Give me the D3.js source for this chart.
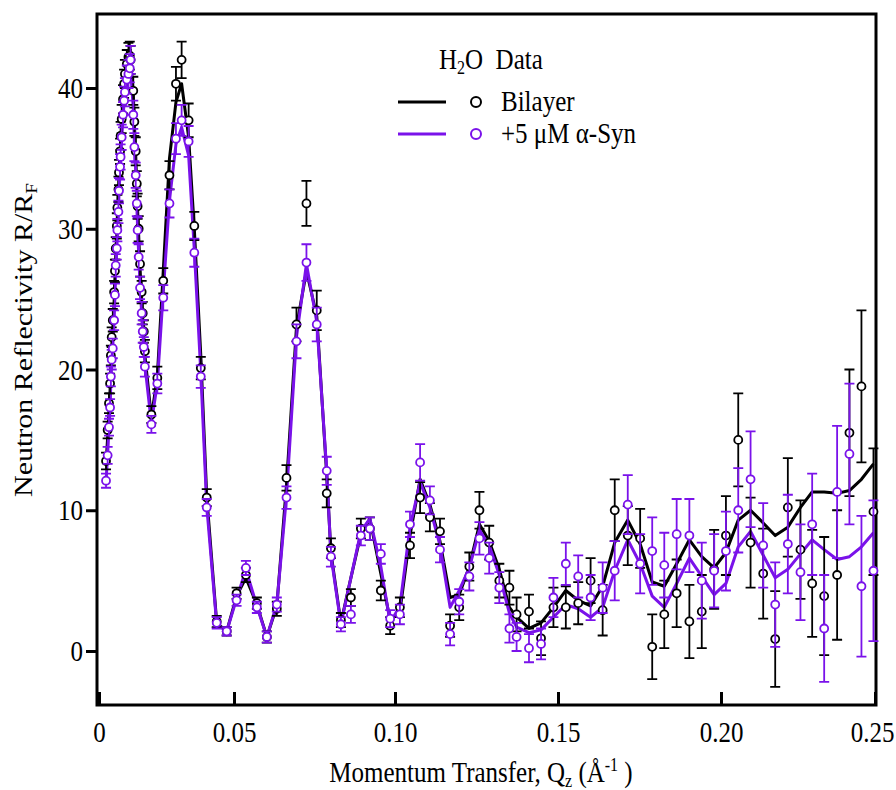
<!DOCTYPE html>
<html>
<head>
<meta charset="utf-8">
<script src="https://cdn.jsdelivr.net/npm/d3@7"></script>
<style>
  body { margin: 0; background: #fff; }
  text { font-family: "Liberation Serif", "Times New Roman", serif; fill: #000; }
</style>
</head>
<body>
<div id="chart"></div>
<script>
// momentum transfer values, shared by both data sets
var qz = [0.0026,0.0032,0.0037,0.0041,0.0044,0.0047,0.0051,0.0056,0.0059,0.0062,
  0.0066,0.0068,0.0072,0.0074,0.0078,0.0080,0.0084,0.0089,0.0093,0.0096,
  0.0103,0.0109,0.0114,0.0117,0.0127,0.0131,0.0136,0.0140,0.0143,0.0147,
  0.0152,0.0158,0.0162,0.0166,0.0170,0.0194,
  0.0216,0.0238,0.0261,0.0285,0.0306,0.0332,0.0353,0.0377,0.0399,0.0436,0.0473,
  0.0508,0.0537,0.0571,0.0602,0.0633,0.0663,0.0694,0.0725,0.0757,0.0788,0.0801,
  0.0832,0.0863,0.0894,0.0922,0.0956,0.0985,
  0.1015,0.1046,0.1077,0.1107,0.1138,0.1169,0.1197,0.1228,0.1259,0.1289,0.1320,
  0.1351,0.1373,0.1411,0.1448,0.1486,
  0.1524,0.1562,0.1600,0.1637,0.1674,0.1714,0.1752,0.1789,0.1826,0.1864,0.1903,
  0.1941,0.1979,
  0.2016,0.2056,0.2096,0.2137,0.2176,0.2217,0.2258,0.2296,0.2335,0.2377,0.2417,
  0.2456,0.2495];

var bilayer = [13.5,15.7,17.6,19.0,21.0,22.3,23.5,25.5,27.0,28.6,
  30.2,31.5,32.8,34.0,35.5,36.6,37.8,39.2,40.3,41.0,
  41.7,42.2,42.3,42.0,39.8,37.6,35.5,33.2,31.6,30.0,
  27.5,25.5,24.0,22.7,21.3,16.8,
  19.4,26.3,33.8,40.3,42.0,37.7,30.2,20.1,10.9,2.1,1.4,
  4.1,5.4,3.4,1.0,3.0,12.3,23.2,31.8,24.2,11.2,7.3,
  2.2,3.8,8.7,8.7,4.3,1.8,
  3.1,7.5,10.9,9.5,8.5,1.8,3.1,6.0,10.0,7.7,5.0,
  4.5,2.6,2.8,0.9,3.1,
  3.1,3.4,5.0,2.9,10.0,8.2,8.0,0.3,2.6,4.1,2.1,
  2.8,5.8,
  8.2,15.0,7.7,5.5,0.85,10.2,7.2,4.8,3.9,5.4,15.5,
  18.8,9.9];

var bilayerErr = [0.6,0.6,0.7,0.7,0.7,0.7,0.8,0.8,0.8,0.8,
  0.9,0.9,0.9,0.9,0.9,1.0,1.0,1.0,1.0,1.0,
  1.0,1.0,1.0,1.0,1.0,1.0,1.0,0.9,0.9,0.9,
  0.9,0.8,0.8,0.8,0.8,0.6,
  0.8,0.9,1.0,1.2,1.3,1.2,1.0,0.8,0.6,0.4,0.3,
  0.4,0.5,0.4,0.4,0.5,0.9,1.2,1.6,1.4,1.0,0.7,
  0.5,0.6,0.7,0.8,0.7,0.6,
  0.7,0.9,1.1,1.0,0.9,0.8,0.9,1.0,1.3,1.2,1.2,
  1.2,1.2,1.2,1.2,1.4,
  1.5,1.5,1.6,1.8,2.2,2.1,2.1,2.3,2.4,2.4,2.6,
  2.6,2.8,
  2.8,3.3,3.2,3.2,3.4,3.5,3.5,3.8,4.2,4.6,4.5,
  5.4,4.5];

var bilayerFit = [13.2,15.2,17.0,18.5,20.2,21.5,22.8,24.8,26.5,28.0,
  29.5,30.8,32.2,33.5,35.0,36.0,37.3,38.8,39.9,40.7,
  41.7,42.2,42.3,42.0,39.6,37.5,35.2,33.0,31.3,29.5,
  27.2,25.0,23.6,22.3,21.0,16.6,
  19.5,27.0,35.0,39.0,40.3,36.5,30.0,21.0,11.0,2.0,1.4,
  3.9,5.2,3.3,1.0,3.2,11.8,23.0,27.0,23.8,12.5,7.0,
  2.0,5.2,8.3,9.4,5.5,2.2,
  2.8,8.2,12.2,10.4,7.8,3.8,4.0,6.0,9.0,7.8,5.8,
  3.1,2.4,1.6,2.0,3.1,
  4.3,3.6,3.2,4.6,7.7,9.3,7.6,4.9,4.6,6.2,7.9,
  6.7,5.9,
  7.0,9.3,10.0,9.1,8.2,8.8,10.2,11.3,11.3,11.2,11.4,
  12.2,13.3];

var syn = [12.1,13.9,15.9,17.3,19.5,20.7,21.5,23.5,25.3,27.4,
  28.6,29.9,31.2,32.7,34.4,35.1,36.5,38.1,39.1,39.7,
  40.6,41.0,41.4,42.0,38.1,35.8,33.8,31.8,29.9,28.0,
  25.8,24.0,22.7,21.6,20.2,16.1,
  19.0,25.1,31.8,36.4,37.7,36.2,28.3,19.5,10.2,2.0,1.4,
  3.6,5.9,3.1,1.0,3.3,10.9,22.0,27.6,23.2,12.8,6.7,
  1.9,2.6,8.2,8.7,6.9,2.3,
  2.6,9.0,13.4,10.7,7.2,1.2,3.5,5.3,8.0,6.6,4.5,
  1.6,1.0,0.2,0.5,3.8,
  6.2,5.3,3.8,4.5,5.7,10.4,6.2,7.1,6.1,8.3,8.2,
  5.0,5.7,
  7.1,10.0,12.2,7.5,3.3,7.6,5.6,9.0,1.6,11.3,14.0,
  4.6,5.7];

var synErr = [0.5,0.6,0.6,0.6,0.7,0.7,0.7,0.7,0.8,0.8,
  0.8,0.8,0.8,0.9,0.9,0.9,0.9,0.9,1.0,1.0,
  1.0,1.0,1.0,1.0,1.0,1.0,0.9,0.9,0.9,0.9,
  0.8,0.8,0.8,0.7,0.7,0.6,
  0.7,0.9,1.0,1.1,1.1,1.1,1.0,0.8,0.6,0.4,0.3,
  0.4,0.5,0.4,0.4,0.5,0.8,1.2,1.3,1.2,1.0,0.7,
  0.5,0.6,0.7,0.8,0.7,0.6,
  0.7,0.9,1.3,1.0,0.9,0.8,0.9,1.0,1.15,1.1,1.1,
  1.0,1.0,1.0,1.1,1.4,
  1.5,1.5,1.6,1.8,2.1,2.1,2.1,2.4,2.3,2.5,2.6,
  2.7,2.6,
  2.8,3.0,3.4,3.0,3.0,3.5,3.4,3.6,3.8,4.7,5.0,
  5.0,5.0];

var synFit = [12.0,14.0,15.8,17.3,19.2,20.5,21.7,23.5,25.2,27.0,
  28.5,29.8,31.2,32.5,34.0,35.0,36.4,37.9,39.0,39.8,
  40.8,41.4,41.6,41.4,38.5,36.2,34.0,32.0,30.0,28.2,
  26.0,24.0,22.8,21.6,20.3,16.2,
  19.0,25.5,32.0,36.0,37.2,35.2,28.5,19.8,10.3,1.9,1.4,
  3.7,5.8,3.2,1.0,3.3,11.0,22.3,27.5,23.4,12.8,6.8,
  1.9,5.2,8.5,9.4,6.0,2.0,
  3.2,8.8,12.0,10.2,7.5,3.1,4.3,5.9,8.6,7.5,5.4,
  2.7,1.7,1.3,1.5,2.4,
  3.3,3.0,2.4,3.1,5.7,7.9,6.2,3.9,3.1,4.8,6.6,
  5.3,4.0,
  4.8,7.4,8.5,6.8,5.2,5.8,6.9,7.9,7.2,6.5,6.7,
  7.4,8.4];

var xTicks = [0, 0.05, 0.10, 0.15, 0.20, 0.25];
var xTickLabels = ["0", "0.05", "0.10", "0.15", "0.20", "0.25"];
var yTicks = [0, 10, 20, 30, 40];

var series = [
  { name: "Bilayer", color: "#000000", y: bilayer, err: bilayerErr, fit: bilayerFit },
  { name: "+5 \u03bcM \u03b1-Syn", color: "#7a12ea", y: syn, err: synErr, fit: synFit }
];

var width = 896, height = 790;
var frame = { left: 97, right: 876, top: 14, bottom: 705 };
var stretch = 1.2;   // the original figure's lettering is tall and narrow

var svg = d3.select("#chart")
  .append("svg")
    .attr("width", width)
    .attr("height", height);

// x axis of the original is not quite evenly spaced, so follow its ticks
var x = d3.scaleLinear()
  .domain(xTicks)
  .range([99, 234, 395, 558, 721, 875]);

var y = d3.scaleLinear()
  .domain([0, 40])
  .range([651, 88]);

// frame
svg.append("rect")
  .attr("x", frame.left)
  .attr("y", frame.top)
  .attr("width", frame.right - frame.left)
  .attr("height", frame.bottom - frame.top)
  .attr("fill", "none")
  .attr("stroke", "#000")
  .attr("stroke-width", 3);

var gx = svg.append("g")
  .attr("transform", "translate(0," + frame.bottom + ")")
  .call(d3.axisBottom(x).tickValues(xTicks)
    .tickFormat(function (d, i) { return xTickLabels[i]; })
    .tickSize(-13).tickPadding(13));
gx.select(".domain").remove();
gx.selectAll(".tick line").attr("stroke-width", 3);
gx.selectAll(".tick text")
  .attr("font-family", null)
  .attr("transform", "scale(1," + stretch + ")")
  .attr("dx", function (d, i) { return i === xTicks.length - 1 ? -3 : 0; })
  .style("font-size", "25px");

var gy = svg.append("g")
  .attr("transform", "translate(" + frame.left + ",0)")
  .call(d3.axisLeft(y).tickValues(yTicks).tickSize(11).tickPadding(3));
gy.select(".domain").remove();
gy.selectAll(".tick line").attr("stroke-width", 3);
gy.selectAll(".tick text")
  .attr("font-family", null)
  .attr("transform", "scale(1," + stretch + ")")
  .style("font-size", "25px");

// axis titles
var xt = svg.append("g")
  .attr("transform", "translate(481,782) scale(1," + stretch + ")")
  .append("text")
  .attr("text-anchor", "middle")
  .style("font-size", "25px");
xt.append("tspan").text("Momentum Transfer, Q");
xt.append("tspan").attr("dy", 4).style("font-size", "16px").text("z");
xt.append("tspan").attr("dy", -4).text(" (\u00c5");
xt.append("tspan").attr("dy", -9).style("font-size", "16px").text("-1");
xt.append("tspan").attr("dy", 9).text("\u00a0)");

var yt = svg.append("text")
  .attr("transform", "translate(32,340) rotate(-90) scale(" + stretch + ",1)")
  .attr("text-anchor", "middle")
  .style("font-size", "25px");
yt.append("tspan").text("Neutron Reflectivity R/R");
yt.append("tspan").attr("dy", 5).style("font-size", "16px").text("F");

// fit lines
var line = d3.line()
  .x(function (d) { return x(d[0]); })
  .y(function (d) { return y(d[1]); });

series.forEach(function (s) {
  svg.append("path")
    .datum(qz.map(function (q, i) { return [q, s.fit[i]]; }))
    .attr("d", line)
    .attr("fill", "none")
    .attr("stroke", s.color)
    .attr("stroke-width", 3)
    .attr("stroke-linejoin", "round");
});

// data points with error bars
series.forEach(function (s) {
  var pts = qz.map(function (q, i) { return { q: q, v: s.y[i], e: s.err[i] }; });
  var g = svg.append("g")
    .attr("stroke", s.color)
    .attr("stroke-width", 1.8);

  g.selectAll(".bar")
    .data(pts)
    .enter()
    .append("path")
      .attr("fill", "none")
      .attr("d", function (d) {
        var cx = x(d.q), y0 = y(d.v - d.e), y1 = y(d.v + d.e);
        return "M" + cx + "," + y0 + "V" + y1 +
               "M" + (cx - 5) + "," + y1 + "H" + (cx + 5) +
               "M" + (cx - 5) + "," + y0 + "H" + (cx + 5);
      });

  g.selectAll("circle")
    .data(pts)
    .enter()
    .append("circle")
      .attr("cx", function (d) { return x(d.q); })
      .attr("cy", function (d) { return y(d.v); })
      .attr("r", 4)
      .attr("fill", "#fff");
});

// legend
var leg = svg.append("g");
var ht = leg.append("g")
  .attr("transform", "translate(439,69) scale(1," + stretch + ")")
  .append("text")
  .style("font-size", "25px");
ht.append("tspan").text("H");
ht.append("tspan").attr("dy", 4).style("font-size", "16px").text("2");
ht.append("tspan").attr("dy", -4).text("O\u00a0 Data");

series.forEach(function (s, i) {
  var ly = 102 + i * 32;
  leg.append("line")
    .attr("x1", 398).attr("x2", 446)
    .attr("y1", ly).attr("y2", ly)
    .attr("stroke", s.color)
    .attr("stroke-width", 3);
  leg.append("circle")
    .attr("cx", 476).attr("cy", ly)
    .attr("r", 5)
    .attr("fill", "#fff")
    .attr("stroke", s.color)
    .attr("stroke-width", 2);
  leg.append("g")
    .attr("transform", "translate(501," + (ly + 9) + ") scale(1," + stretch + ")")
    .append("text")
    .style("font-size", "25px")
    .text(s.name);
});
</script>
</body>
</html>
